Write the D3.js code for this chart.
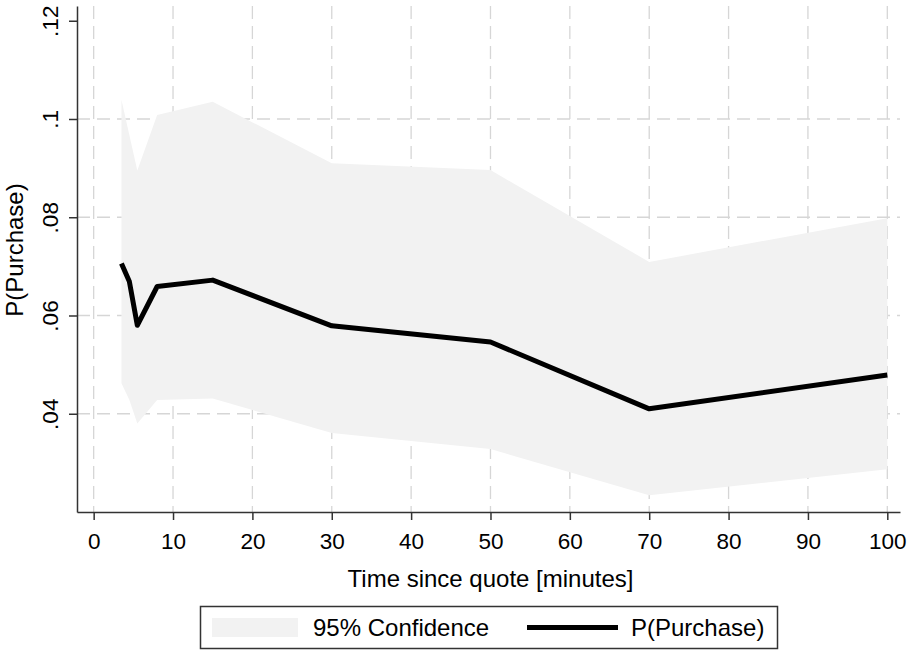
<!DOCTYPE html>
<html>
<head>
<meta charset="utf-8">
<script src="https://cdn.jsdelivr.net/npm/d3@7"></script>
<style>
  body { margin: 0; background: #fff; }
  svg { font-family: "Liberation Sans", Arial, sans-serif; }
</style>
</head>
<body>
<script>
// minutes since quote
const minutes = [3.5, 4.5, 5.5, 8, 15, 30, 50, 70, 100];
// predicted probability of purchase
const pPurchase = [0.0706, 0.0669, 0.0580, 0.0659, 0.0672, 0.0579, 0.0546, 0.0410, 0.0479];
// 95% confidence bounds
const ciUpper = [0.1039, 0.0967, 0.0895, 0.1008, 0.1035, 0.0910, 0.0896, 0.0709, 0.0798];
const ciLower = [0.0462, 0.0428, 0.0380, 0.0428, 0.0431, 0.0361, 0.0328, 0.0234, 0.0287];

const xTicks = [0, 10, 20, 30, 40, 50, 60, 70, 80, 90, 100];
const yTicks = [0.04, 0.06, 0.08, 0.1, 0.12];
const yGrid = [0.04, 0.06, 0.08, 0.1];

const width = 908, height = 651;
const svg = d3.select("body").append("svg")
  .attr("width", width)
  .attr("height", height);

// plot region
const plotLeft = 77, plotRight = 900, plotTop = 6, plotBottom = 512;

const x = d3.scaleLinear().domain([-2.1, 101.6]).range([plotLeft, plotRight]);
const y = d3.scaleLinear().domain([0.02, 0.123]).range([plotBottom, plotTop]);

const data = minutes.map((m, i) => ({ m: m, p: pPurchase[i], lo: ciLower[i], hi: ciUpper[i] }));

// gridlines
const gridColor = "#d6d6d6";
svg.append("g").selectAll("line")
  .data(xTicks)
  .enter().append("line")
  .attr("x1", d => x(d)).attr("x2", d => x(d))
  .attr("y1", plotTop).attr("y2", plotBottom)
  .attr("stroke", gridColor)
  .attr("stroke-width", 1.3)
  .attr("stroke-dasharray", "13,7");

svg.append("g").selectAll("line")
  .data(yGrid)
  .enter().append("line")
  .attr("x1", plotLeft).attr("x2", plotRight)
  .attr("y1", d => y(d)).attr("y2", d => y(d))
  .attr("stroke", gridColor)
  .attr("stroke-width", 1.3)
  .attr("stroke-dasharray", "13,7");

// confidence band
const area = d3.area()
  .x(d => x(d.m))
  .y0(d => y(d.lo))
  .y1(d => y(d.hi));

svg.append("path")
  .datum(data)
  .attr("d", area)
  .attr("fill", "#f2f2f2");

// prediction line
const line = d3.line()
  .x(d => x(d.m))
  .y(d => y(d.p));

svg.append("path")
  .datum(data)
  .attr("d", line)
  .attr("fill", "none")
  .attr("stroke", "#000")
  .attr("stroke-width", 5)
  .attr("stroke-linejoin", "round");

// axes
const axisColor = "#333";

const xAxis = svg.append("g")
  .attr("transform", `translate(0, ${plotBottom})`)
  .call(d3.axisBottom(x).tickValues(xTicks).tickSize(8).tickSizeOuter(0).tickPadding(8));

const yAxis = svg.append("g")
  .attr("transform", `translate(${plotLeft}, 0)`)
  .call(d3.axisLeft(y).tickValues(yTicks).tickSize(8).tickSizeOuter(0)
    .tickFormat(d => d3.format(".2~f")(d).replace(/^0/, "")));

[xAxis, yAxis].forEach(g => {
  g.select(".domain").attr("stroke", axisColor).attr("stroke-width", 1.5);
  g.selectAll(".tick line").attr("stroke", axisColor).attr("stroke-width", 1.5);
  g.selectAll("text")
    .attr("fill", "#000")
    .style("font-size", "22.5px")
    .style("font-family", "'Liberation Sans', Arial, sans-serif");
});

xAxis.selectAll("text").attr("dy", "0.95em");

yAxis.selectAll(".tick text")
  .attr("transform", "rotate(-90)")
  .attr("x", 0)
  .attr("y", -19)
  .attr("dy", 0)
  .attr("text-anchor", "middle");

// axis titles
svg.append("text")
  .attr("x", (plotLeft + plotRight) / 2 + 2)
  .attr("y", 587)
  .attr("text-anchor", "middle")
  .style("font-size", "24px")
  .text("Time since quote [minutes]");

svg.append("text")
  .attr("transform", "translate(23, 250) rotate(-90)")
  .attr("text-anchor", "middle")
  .style("font-size", "24px")
  .text("P(Purchase)");

// legend
const legend = svg.append("g");
legend.append("rect")
  .attr("x", 200.5).attr("y", 606.5)
  .attr("width", 577).attr("height", 42)
  .attr("fill", "#fff")
  .attr("stroke", "#333")
  .attr("stroke-width", 1.5);

legend.append("rect")
  .attr("x", 212).attr("y", 618)
  .attr("width", 86).attr("height", 19)
  .attr("fill", "#f2f2f2");

legend.append("text")
  .attr("x", 313).attr("y", 636)
  .style("font-size", "24px")
  .text("95% Confidence");

legend.append("line")
  .attr("x1", 527).attr("x2", 618)
  .attr("y1", 627.5).attr("y2", 627.5)
  .attr("stroke", "#000")
  .attr("stroke-width", 5);

legend.append("text")
  .attr("x", 631).attr("y", 636)
  .style("font-size", "24px")
  .text("P(Purchase)");
</script>
</body>
</html>
